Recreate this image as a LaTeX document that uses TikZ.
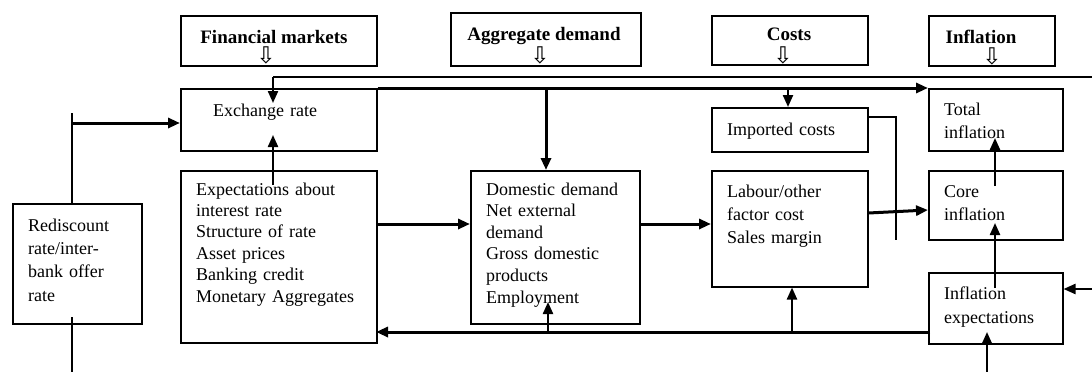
\documentclass[tikz,border=0pt]{standalone}
\usepackage{fontspec}
\setmainfont{Liberation Serif}
\newfontfamily\symf{DejaVu Sans}
\usetikzlibrary{arrows.meta}
\begin{document}
\begin{tikzpicture}[x=1pt,y=-1pt,
  box/.style={draw, line width=1.5pt, inner sep=0pt, anchor=north west},
  txt/.style={anchor=base west, inner sep=0pt, align=left, text width=#1,
    font=\fontsize{18}{23}\selectfont},
  txt/.default=180pt,
  hdr/.style={font=\bfseries\fontsize{19}{22}\selectfont, inner sep=0pt, anchor=base},
  harr/.style={font=\symf\fontsize{23}{23}\selectfont, inner sep=0pt},
  tip/.style={-{Triangle[length=12pt,width=10pt]}},
  heavy/.style={line width=3pt},
  medium/.style={line width=2.2pt},
  thin/.style={line width=1.5pt}
]
\useasboundingbox (0,0) rectangle (1092,372);

% header boxes
\node[box, minimum width=196pt, minimum height=50pt] (hfin) at (180,15) {};
\node[hdr] (hfinT) at (274,43) {Financial markets};
\node[harr] (hfinA) at (266,55) {⇩};
\node[box, minimum width=190pt, minimum height=53pt] (hagg) at (450,12) {};
\node[hdr] (haggT) at (544,40) {Aggregate demand};
\node[harr] (haggA) at (540,55) {⇩};
\node[box, minimum width=156pt, minimum height=49pt] (hcos) at (711,15) {};
\node[hdr] (hcosT) at (789,40) {Costs};
\node[harr] (hcosA) at (783,55) {⇩};
\node[box, minimum width=126pt, minimum height=50pt] (hinf) at (928,15) {};
\node[hdr] (hinfT) at (981,43) {Inflation};
\node[harr] (hinfA) at (992,56) {⇩};

% main boxes
\node[box, minimum width=196pt, minimum height=62pt] (ex) at (180,88) {};
\node[txt] (exT) at (213,116) {Exchange rate};
\node[box, minimum width=196pt, minimum height=172pt] (exp) at (180,170) {};
\node[txt, font=\fontsize{18}{21.4}\selectfont] (expT) at (196,195) {Expectations about\\interest rate\\Structure of rate\\Asset prices\\Banking credit\\Monetary Aggregates};
\node[box, minimum width=169pt, minimum height=153pt] (dom) at (470,170) {};
\node[txt=150pt, font=\fontsize{18}{21.6}\selectfont] (domT) at (486,195) {Domestic demand\\Net external\\demand\\Gross domestic\\products\\Employment};
\node[box, minimum width=156pt, minimum height=44pt] (imp) at (711,107) {};
\node[txt=140pt] (impT) at (727,135) {Imported costs};
\node[box, minimum width=156pt, minimum height=116pt] (lab) at (711,170) {};
\node[txt=140pt] (labT) at (727,197) {Labour/other\\factor cost\\Sales margin};
\node[box, minimum width=134pt, minimum height=62pt] (tot) at (928,88) {};
\node[txt=120pt, font=\fontsize{18}{23.5}\selectfont] (totT) at (944,115) {Total\\inflation};
\node[box, minimum width=134pt, minimum height=69pt] (core) at (928,170) {};
\node[txt=120pt, font=\fontsize{18}{23.5}\selectfont] (coreT) at (944,197) {Core\\inflation};
\node[box, minimum width=134pt, minimum height=71pt] (iexp) at (928,272) {};
\node[txt=120pt, font=\fontsize{18}{24}\selectfont] (iexpT) at (944,299) {Inflation\\expectations};
\node[box, minimum width=129pt, minimum height=120pt] (red) at (12,203) {};
\node[txt=110pt, font=\fontsize{18}{23.4}\selectfont] (redT) at (28,231) {Rediscount\\rate/inter-\\bank offer\\rate};

% coordinates for free ends and junctions
\coordinate (topR) at (1092,77);
\coordinate (topL) at (273,77);
\coordinate (exIn) at (273,103);
\coordinate (expOut) at (273,185);
\coordinate (exBot) at (273,135);
\coordinate (jDom) at (546,88);
\coordinate (jImp) at (788,88);
\coordinate (impR) at (896,117);
\coordinate (impEnd) at (896,240);
\coordinate (coreOut) at (995,186);
\coordinate (totIn) at (995,138);
\coordinate (iexpOut) at (995,288);
\coordinate (coreIn) at (995,223);
\coordinate (rightIn) at (1092,289);
\coordinate (botIn) at (987,372);
\coordinate (iexpIn) at (987,332);
\coordinate (fbStart) at (930,332);
\coordinate (fbEnd) at (376,332);
\coordinate (jLab) at (792,332);
\coordinate (jDom2) at (548,332);
\coordinate (domIn) at (548,302);
\coordinate (redTop) at (72,113);
\coordinate (redJ) at (72,123);
\coordinate (redIn) at (72,317);
\coordinate (redBot) at (72,372);

% connectors
\draw[thin] (topR) -- (topL);
\draw[medium, tip] (topL) -- (exIn);
\draw[heavy, tip] (ex.north east) -- (tot.north west);
\draw[heavy, tip] (jDom) -- (dom.north -| jDom);
\draw[medium, tip] (jImp) -- (imp.north -| jImp);
\draw[thin] (imp.east |- impR) -- (impR) -- (impEnd);
\draw[heavy, tip] (lab.east |- 0,213) -- (core.west |- 0,210);
\draw[medium, tip] (coreOut) -- (totIn);
\draw[medium, tip] (iexpOut) -- (coreIn);
\draw[medium, tip] (rightIn) -- (iexp.east |- rightIn);
\draw[medium, tip] (botIn) -- (iexpIn);
\draw[heavy, tip] (fbStart) -- (fbEnd);
\draw[medium, tip] (jLab) -- (lab.south -| jLab);
\draw[medium, tip] (jDom2) -- (domIn);
\draw[medium, tip] (expOut) -- (exBot);
\draw[heavy, tip] (exp.east |- 0,224) -- (dom.west |- 0,224);
\draw[heavy, tip] (dom.east |- 0,224) -- (lab.west |- 0,224);
\draw[thin] (redTop) -- (red.north -| redTop);
\draw[heavy, tip] (redJ) -- (ex.west |- redJ);
\draw[thin] (redIn) -- (redBot);
\end{tikzpicture}
\end{document}
